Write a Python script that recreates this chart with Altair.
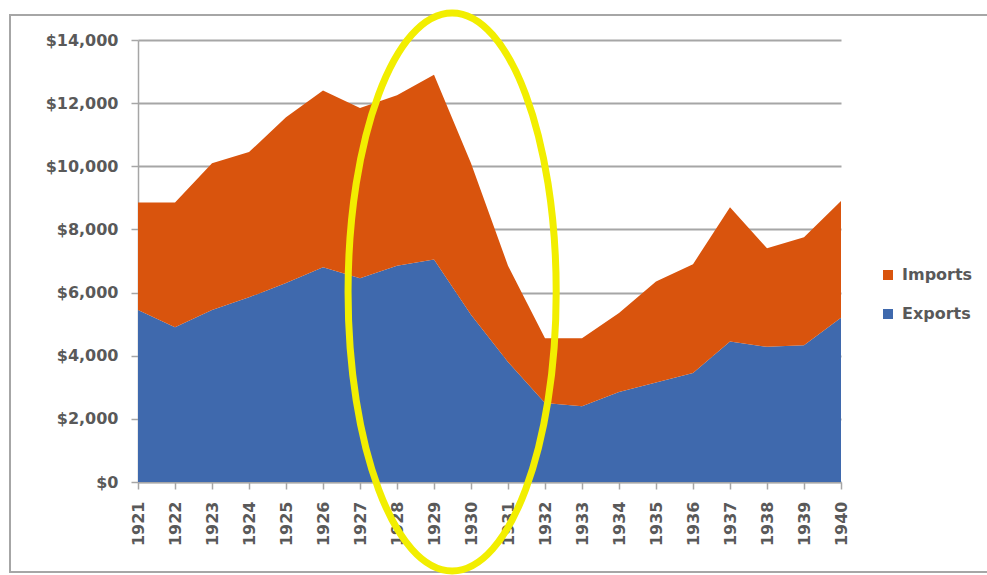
import altair as alt
import pandas as pd

# U.S. foreign trade, 1921-1940 (millions of dollars)
years = list(range(1921, 1941))
exports = [5450, 4900, 5450, 5850, 6300, 6800, 6450, 6850, 7050, 5300,
           3800, 2500, 2400, 2850, 3150, 3450, 4450, 4280, 4330, 5200]
imports = [3400, 3950, 4650, 4600, 5250, 5600, 5400, 5400, 5850, 4800,
           3050, 2050, 2150, 2500, 3200, 3450, 4250, 3120, 3420, 3700]

series_names = ["Imports", "Exports"]
series_colors = ["#D9540D", "#3F69AD"]
y_ticks = [0, 2000, 4000, 6000, 8000, 10000, 12000, 14000]

# crash years singled out by the yellow ring
highlight_year = [1929.49]
highlight_value = [6020]

FONT = "DejaVu Sans"
TEXT = "#595959"
GRID = "#A6A6A6"

trade = pd.DataFrame({
    "year": years * 2,
    "series": ["Exports"] * len(years) + ["Imports"] * len(years),
    "value": exports + imports,
})
ring = pd.DataFrame({"year": highlight_year, "value": highlight_value})

x_scale = alt.Scale(domain=[years[0], years[-1]], nice=False, zero=False)
y_scale = alt.Scale(domain=[0, 14000], nice=False)

x_axis = alt.Axis(values=years, format="d", labelAngle=270, title=None,
                  grid=False, tickSize=7, labelPadding=12,
                  labelOverlap=False, labelFlush=False,
                  domainColor=GRID, tickColor=GRID, domainWidth=1.5,
                  tickWidth=1.5)
y_axis = alt.Axis(values=y_ticks, format="$,.0f", title=None,
                  grid=True, gridColor=GRID, gridWidth=2,
                  tickSize=7, labelPadding=13,
                  labelOverlap=False, labelFlush=False,
                  domainColor=GRID, tickColor=GRID, domainWidth=1.5,
                  tickWidth=1.5)

# frame around the whole figure
frame = alt.Chart(pd.DataFrame({"k": [0]})).mark_rect(
    fill="transparent", stroke=GRID, strokeWidth=2, clip=False
).encode(
    x=alt.value(-128), x2=alt.value(870),
    y=alt.value(-25), y2=alt.value(532),
)

areas = alt.Chart(trade).transform_calculate(
    stack_rank="datum.series === 'Exports' ? 0 : 1"
).mark_area(interpolate="linear", opacity=1).encode(
    x=alt.X("year:Q", scale=x_scale, axis=x_axis),
    y=alt.Y("value:Q", stack="zero", scale=y_scale, axis=y_axis),
    color=alt.Color("series:N",
                    scale=alt.Scale(domain=series_names, range=series_colors),
                    legend=alt.Legend(title=None, orient="none",
                                      legendX=742, legendY=227,
                                      symbolType="square", symbolSize=100,
                                      symbolStrokeWidth=0, labelOffset=6,
                                      rowPadding=23, padding=0)),
    order=alt.Order("stack_rank:Q"),
)

# hand-drawn style ellipse as a custom symbol path (unit square, 4 cubic arcs)
ellipse_path = ("M0,-1C0.206,-1 0.373,-0.552 0.373,0"
                "C0.373,0.552 0.206,1 0,1"
                "C-0.206,1 -0.373,0.552 -0.373,0"
                "C-0.373,-0.552 -0.206,-1 0,-1Z")
ring_mark = alt.Chart(ring).mark_point(
    shape=ellipse_path, filled=False, stroke="#F2EE00", strokeWidth=7,
    opacity=1, clip=False
).encode(
    x=alt.X("year:Q", scale=x_scale, axis=x_axis),
    y=alt.Y("value:Q", scale=y_scale, axis=y_axis),
    size=alt.value(311364),
)

chart = alt.layer(frame, areas, ring_mark).properties(
    width=703, height=442,
    padding={"left": 138, "top": 40, "right": 146, "bottom": 93},
    autosize=alt.AutoSizeParams(type="none"),
    background="white",
).configure_view(
    strokeWidth=0
).configure_axis(
    labelFont=FONT, labelFontSize=16, labelFontWeight="bold", labelColor=TEXT,
).configure_legend(
    labelFont=FONT, labelFontSize=16, labelFontWeight="bold", labelColor=TEXT,
)

chart.save("out.html", embed_options={"renderer": "svg", "actions": False})
